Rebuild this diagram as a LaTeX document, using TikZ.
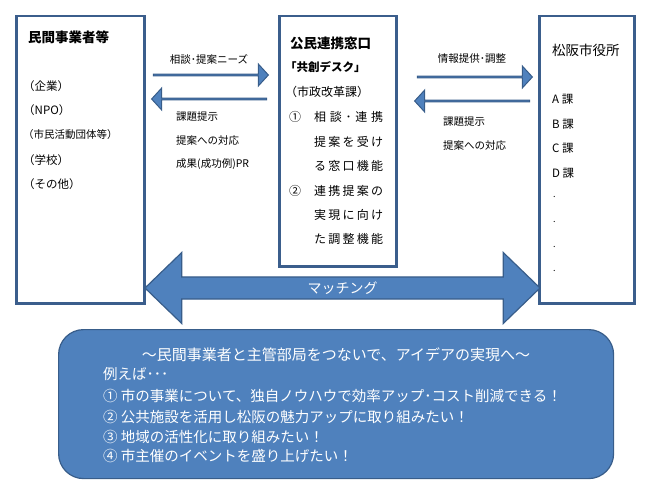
\documentclass[tikz,border=0pt]{standalone}
\usepackage{fontspec}
\setmainfont{Noto Sans CJK JP}
\usetikzlibrary{shapes.arrows}

\definecolor{boxline}{HTML}{3B5E8C}
\definecolor{arrowfill}{HTML}{4F81BD}
\definecolor{arrowline}{HTML}{385D8A}

\begin{document}
\begin{tikzpicture}[x=1pt,y=-1pt,
  box/.style={draw=boxline, line width=2.5pt, fill=white, anchor=north west, inner sep=0pt},
  flow/.style={single arrow, draw=arrowline, fill=arrowfill, line width=1pt, inner sep=0pt,
    minimum width=22pt, minimum height=115pt, single arrow head extend=6pt, single arrow tip angle=95},
  back/.style={flow, shape border rotate=180},
  txt/.style={anchor=west, inner sep=0pt, font=\fontsize{11.5}{13}\selectfont},
  small/.style={anchor=west, inner sep=0pt, font=\fontsize{10.5}{12}\selectfont},
  head/.style={anchor=west, inner sep=0pt, font=\fontsize{13.5}{15}\selectfont\bfseries},
  white/.style={anchor=west, inner sep=0pt, text=white, font=\fontsize{14.5}{16}\selectfont}
]
\useasboundingbox (0,0) rectangle (650,495);

% three parties
\node[box, minimum width=128pt, minimum height=287pt] (priv) at (15,15) {};
\node[box, minimum width=117pt, minimum height=250pt] (desk) at (278,15) {};
\node[box, minimum width=95pt, minimum height=287pt] (city) at (538,15) {};

% left box
\node[head] (privname) at (28,37) {民間事業者等};
\foreach \t/\y/\n in {{（企業）}/86/a, {（NPO）}/110/b, {（学校）}/160/d, {（その他）}/184/e} {
  \node[txt] (priv\n) at (23,\y) {\t};
}
\node[small] (privc) at (23,135) {（市民活動団体等）};

% desk box
\node[head] (deskname) at (290,43) {公民連携窓口};
\node[txt, font=\fontsize{11.5}{13}\selectfont\bfseries] (deskalias) at (285,67) {「共創デスク」};
\node[txt, font=\fontsize{12}{13}\selectfont] (deskdiv) at (285,92) {（市政改革課）};
\node[txt, font=\fontsize{12}{13}\selectfont] (roleone) at (289,117) {①};
\node[txt, font=\fontsize{12}{13}\selectfont] (roletwo) at (289,191) {②};
\foreach \t/\y/\n in {
  {相\hfill 談\hfill ･\hfill 連\hfill 携}/117/a,
  {提\hfill 案\hfill を\hfill 受\hfill け}/142/b,
  {る\hfill 窓\hfill 口\hfill 機\hfill 能}/166/c,
  {連\hfill 携\hfill 提\hfill 案\hfill の}/191/d,
  {実\hfill 現\hfill に\hfill 向\hfill け}/215/e,
  {た\hfill 調\hfill 整\hfill 機\hfill 能}/239/f
} {
  \node[txt, font=\fontsize{12}{13}\selectfont] (role\n) at (314,\y) {\makebox[69pt][s]{\t}};
}

% right box
\node[head, font=\fontsize{13.5}{15}\selectfont] (cityname) at (552,50) {松阪市役所};
\foreach \t/\y in {A/99, B/124, C/148, D/173} {
  \node[txt] (sec\t) at (552,\y) {\t\ 課};
}
\foreach \y/\n in {197/1, 222/2, 247/3, 271/4} {
  \node[txt, font=\fontsize{9}{11}\selectfont] (more\n) at (553,\y) {.};
}

% arrows between the boxes
\node[flow] (ask) at (210.5,75) {};
\node[back] (answer) at (209.5,99) {};
\node[flow] (inform) at (474.5,77) {};
\node[back] (request) at (472.5,101) {};

\node[small, anchor=center] (asklbl) at (209,59) {相談･提案ニーズ};
\node[small, anchor=center] (informlbl) at (472,59) {情報提供･調整};
\foreach \t/\y/\n in {{課題提示}/117/a, {提案への対応}/141/b, {成果(成功例)PR}/164/c} {
  \node[small] (answer\n) at (176,\y) {\t};
}
\foreach \t/\y/\n in {{課題提示}/122/a, {提案への対応}/146/b} {
  \node[small] (request\n) at (443,\y) {\t};
}

% matching
\node[double arrow, draw=arrowline, fill=arrowfill, line width=1.2pt, inner sep=0pt,
  minimum width=71pt, minimum height=395pt, double arrow head extend=15.5pt,
  double arrow tip angle=88, text=white, font=\fontsize{14}{15}\selectfont]
  (match) at (342.5,288) {マッチング};

% examples
\node[draw=arrowline, fill=arrowfill, line width=1.2pt, rounded corners=25pt,
  anchor=north west, inner sep=0pt, minimum width=555pt, minimum height=149pt] (idea) at (58,329) {};
\node[white, anchor=center, font=\fontsize{15}{16}\selectfont] (ideatitle) at (336,355) {～民間事業者と主管部局をつないで、アイデアの実現へ～};
\foreach \t/\y/\n in {
  {例えば･･･}/374/a,
  {① 市の事業について、独自ノウハウで効率アップ･コスト削減できる！}/396/b,
  {② 公共施設を活用し松阪の魅力アップに取り組みたい！}/417/c,
  {③ 地域の活性化に取り組みたい！}/437/d,
  {④ 市主催のイベントを盛り上げたい！}/456/e
} {
  \node[white] (idea\n) at (103,\y) {\t};
}
\end{tikzpicture}
\end{document}
